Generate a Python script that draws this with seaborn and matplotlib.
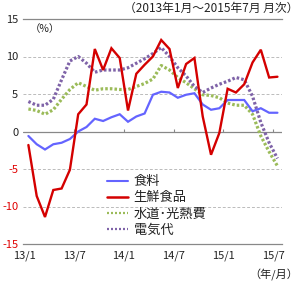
import matplotlib
matplotlib.use("Agg")
import matplotlib.pyplot as plt
import seaborn as sns
import pandas as pd
import numpy as np
from matplotlib.lines import Line2D

sns.set_style("white")
plt.rcParams['font.family'] = ['Noto Sans CJK JP', 'DejaVu Sans']

months = list(range(31))  # 2013/1 .. 2015/7
food = [-0.6, -1.7, -2.4, -1.7, -1.5, -1.0, 0.0, 0.6, 1.7, 1.4, 1.9, 2.3, 1.3, 2.0, 2.4, 4.9,
        5.3, 5.2, 4.5, 4.9, 5.1, 3.6, 2.9, 3.1, 4.2, 4.2, 4.2, 2.7, 3.1, 2.5, 2.5]
fresh = [-1.8, -8.6, -11.4, -7.8, -7.6, -5.1, 2.3, 3.6, 11.0, 8.2, 11.1, 9.8, 2.8, 7.7, 8.9, 10.0,
         12.2, 11.0, 5.8, 9.0, 9.8, 2.0, -3.1, -0.2, 5.7, 5.2, 6.3, 9.2, 10.9, 7.2, 7.3]
utility = [3.0, 2.8, 2.3, 2.9, 4.3, 5.6, 6.5, 6.0, 5.5, 5.7, 5.7, 5.6, 5.6, 6.0, 6.4, 7.0,
           8.8, 8.2, 7.2, 6.5, 5.7, 4.9, 4.8, 4.5, 3.8, 3.5, 3.5, 2.3, -0.6, -2.7, -4.6]
electric = [4.0, 3.5, 3.5, 4.3, 6.9, 9.4, 10.0, 9.1, 7.9, 8.2, 8.2, 8.2, 8.5, 9.1, 9.7, 10.4,
            11.2, 10.0, 8.5, 7.4, 6.0, 5.2, 5.8, 6.3, 6.7, 7.2, 6.9, 4.7, 1.2, -1.5, -3.6]
names = ['食料', '生鮮食品', '水道･光熱費', '電気代']
colors = ['#6464FF', '#D40000', '#9BBB59', '#7F63A8']
xtick_labels = ['13/1', '13/7', '14/1', '14/7', '15/1', '15/7']
ytick_vals = [-15, -10, -5, 0, 5, 10, 15]

df = pd.DataFrame({'m': months * 4,
                   'v': food + fresh + utility + electric,
                   's': sum([[n] * len(months) for n in names], [])})

fig = plt.figure(figsize=(3.0, 2.84), dpi=100)
ax = fig.add_axes([23/300, 1-244/284, 259/300, 225/284])

styles = {names[0]: dict(lw=1.6, ls='-', z=4),
          names[1]: dict(lw=1.7, ls='-', z=5),
          names[2]: dict(lw=2.3, ls=(0, (0.8, 0.65)), z=3),
          names[3]: dict(lw=2.3, ls=(0, (0.8, 0.65)), z=3)}
for n, c in zip(names, colors):
    sub = df[df.s == n]
    sns.lineplot(data=sub, x='m', y='v', color=c, ax=ax, lw=styles[n]['lw'],
                 linestyle=styles[n]['ls'], legend=False, zorder=styles[n]['z'])
for l in ax.get_lines():
    l.set_dash_capstyle('butt')
    l.set_solid_joinstyle('miter')

ax.set_xlim(-0.65, 30.55)
ax.set_ylim(-15, 15)
ax.set_xlabel('')
ax.set_ylabel('')
for s in ['left', 'right']:
    ax.spines[s].set_visible(False)
for s in ['top', 'bottom']:
    ax.spines[s].set_color('#888888')
    ax.spines[s].set_linewidth(0.9)
for y in [-10, -5, 5, 10]:
    ax.axhline(y, color='#BBBBBB', lw=0.7, ls=(0, (3, 2)), zorder=1)
ax.axhline(0, color='#888888', lw=0.9, zorder=2)
tickpos = [i * 6 - 0.5 for i in range(len(xtick_labels))]
ax.vlines(tickpos[1:], 0, 0.35, color='#888888', lw=0.8, zorder=2)

ax.set_xticks(tickpos)
ax.set_xticklabels(xtick_labels, fontsize=8)
ax.set_yticks(ytick_vals)
ax.set_yticklabels([str(v) for v in ytick_vals], fontsize=8)
for t, v in zip(ax.get_yticklabels(), ytick_vals):
    t.set_color('#E00000' if v < 0 else '#222222')
for t in ax.get_xticklabels():
    t.set_color('#222222')
ax.tick_params(axis='both', length=0)
ax.tick_params(axis='x', pad=5)
ax.tick_params(axis='y', pad=3.5)

fig.text(0.995, 0.972, '（2013年1月～2015年7月 月次）', ha='right', va='center', fontsize=8.5, color='#222222')
fig.text(30/300, 1-29/284, '（%）', ha='left', va='center', fontsize=7.5, color='#222222')
fig.text(0.995, 1-275/284, '（年/月）', ha='right', va='center', fontsize=8, color='#222222')

leg_lw = [1.5, 1.8, 1.6, 1.6]
leg_ls = ['-', '-', (0, (0.9, 0.9)), (0, (0.9, 0.9))]
handles = [Line2D([], [], color=c, lw=w, linestyle=s, dash_capstyle='butt')
           for c, w, s in zip(colors, leg_lw, leg_ls)]
leg = ax.legend(handles, names, loc='upper left', bbox_to_anchor=(0.325, 0.305), frameon=False,
                fontsize=9.5, handlelength=1.55, handletextpad=0.45, labelspacing=0.23, borderpad=0,
                borderaxespad=0)
leg.set_zorder(6)
for t in leg.get_texts():
    t.set_color('#222222')

fig.savefig('out.png', dpi=100)
